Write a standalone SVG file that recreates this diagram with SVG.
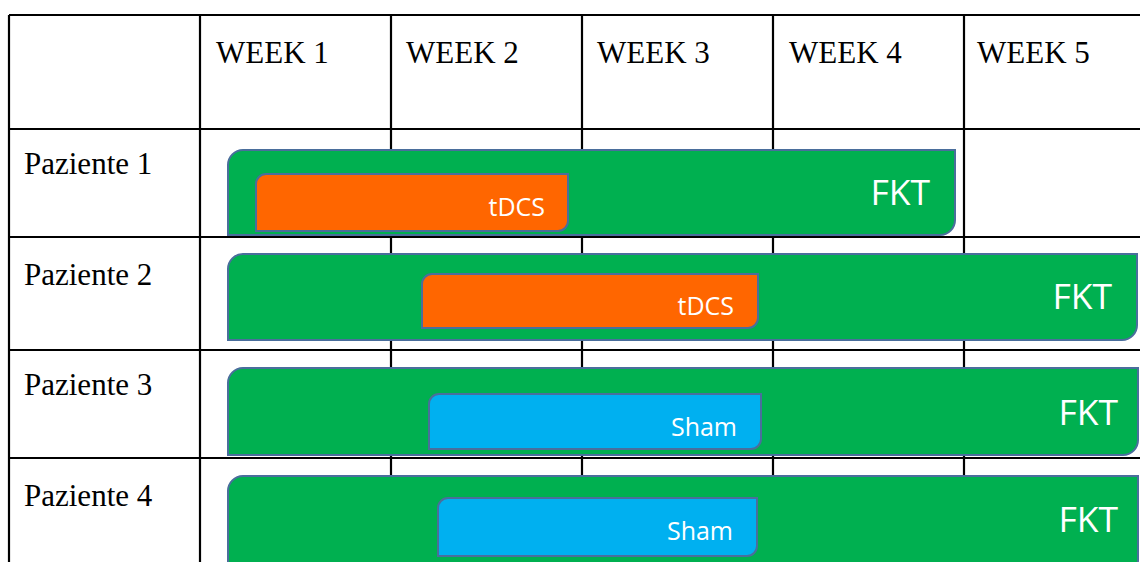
<svg xmlns="http://www.w3.org/2000/svg" width="1140" height="562" viewBox="0 0 1140 562">
<style>
.grid{stroke:#000;stroke-width:2.2;fill:none}
.hdr{font-family:"Liberation Serif","Times New Roman",serif;font-size:31px;fill:#000}
.bar{stroke:#4A6E9C;stroke-width:2}
.fkt{fill:#00B050}
.tdcs{fill:#FF6600}
.sham{fill:#00B0F0}
.lbl{font-family:"Open Sans","DejaVu Sans",sans-serif;fill:#fff;text-anchor:end}
.big{font-size:35.5px}
.small{font-size:25px}
</style>
<rect width="1140" height="562" fill="#fff"/>
<g id="table">
<path class="grid" d="M9,15 H1140 M9,129 H1140 M9,237 H1140 M9,350 H1140 M9,458 H1140 M9,15 V562 M200,15 V562 M391,15 V562 M582,15 V562 M773,15 V562 M964,15 V562"/>
<text class="hdr" x="216" y="63">WEEK 1</text>
<text class="hdr" x="406" y="63">WEEK 2</text>
<text class="hdr" x="597" y="63">WEEK 3</text>
<text class="hdr" x="789" y="63">WEEK 4</text>
<text class="hdr" x="977" y="63">WEEK 5</text>
<text class="hdr" x="24" y="174">Paziente 1</text>
<text class="hdr" x="24" y="285">Paziente 2</text>
<text class="hdr" x="24" y="395">Paziente 3</text>
<text class="hdr" x="24" y="506">Paziente 4</text>
</g>
<g id="connectors"></g>
<g id="p1-fkt">
<path class="bar fkt" d="M243,150 H955 V220 A15,15 0 0 1 940,235 H228 V165 A15,15 0 0 1 243,150 Z"/>
<text class="lbl big" x="930" y="205">FKT</text>
</g>
<g id="p1-tdcs">
<path class="bar tdcs" d="M266,174 H568 V221 A10,10 0 0 1 558,231 H256 V184 A10,10 0 0 1 266,174 Z"/>
<text class="lbl small" x="545" y="216">tDCS</text>
</g>
<g id="p2-fkt">
<path class="bar fkt" d="M243,254 H1137 V325 A15,15 0 0 1 1122,340 H228 V269 A15,15 0 0 1 243,254 Z"/>
<text class="lbl big" x="1112" y="309">FKT</text>
</g>
<g id="p2-tdcs">
<path class="bar tdcs" d="M432,274 H758 V318 A10,10 0 0 1 748,328 H422 V284 A10,10 0 0 1 432,274 Z"/>
<text class="lbl small" x="734" y="315">tDCS</text>
</g>
<g id="p3-fkt">
<path class="bar fkt" d="M243,368 H1138 V440 A15,15 0 0 1 1123,455 H228 V383 A15,15 0 0 1 243,368 Z"/>
<text class="lbl big" x="1118" y="425">FKT</text>
</g>
<g id="p3-sham">
<path class="bar sham" d="M439,394 H761 V439 A10,10 0 0 1 751,449 H429 V404 A10,10 0 0 1 439,394 Z"/>
<text class="lbl small" x="737" y="436">Sham</text>
</g>
<g id="p4-fkt">
<path class="bar fkt" d="M243,476 H1138 V560 A15,15 0 0 1 1123,575 H228 V491 A15,15 0 0 1 243,476 Z"/>
<text class="lbl big" x="1118" y="532">FKT</text>
</g>
<g id="p4-sham">
<path class="bar sham" d="M448,498 H757 V546 A10,10 0 0 1 747,556 H438 V508 A10,10 0 0 1 448,498 Z"/>
<text class="lbl small" x="733" y="540">Sham</text>
</g>
</svg>
